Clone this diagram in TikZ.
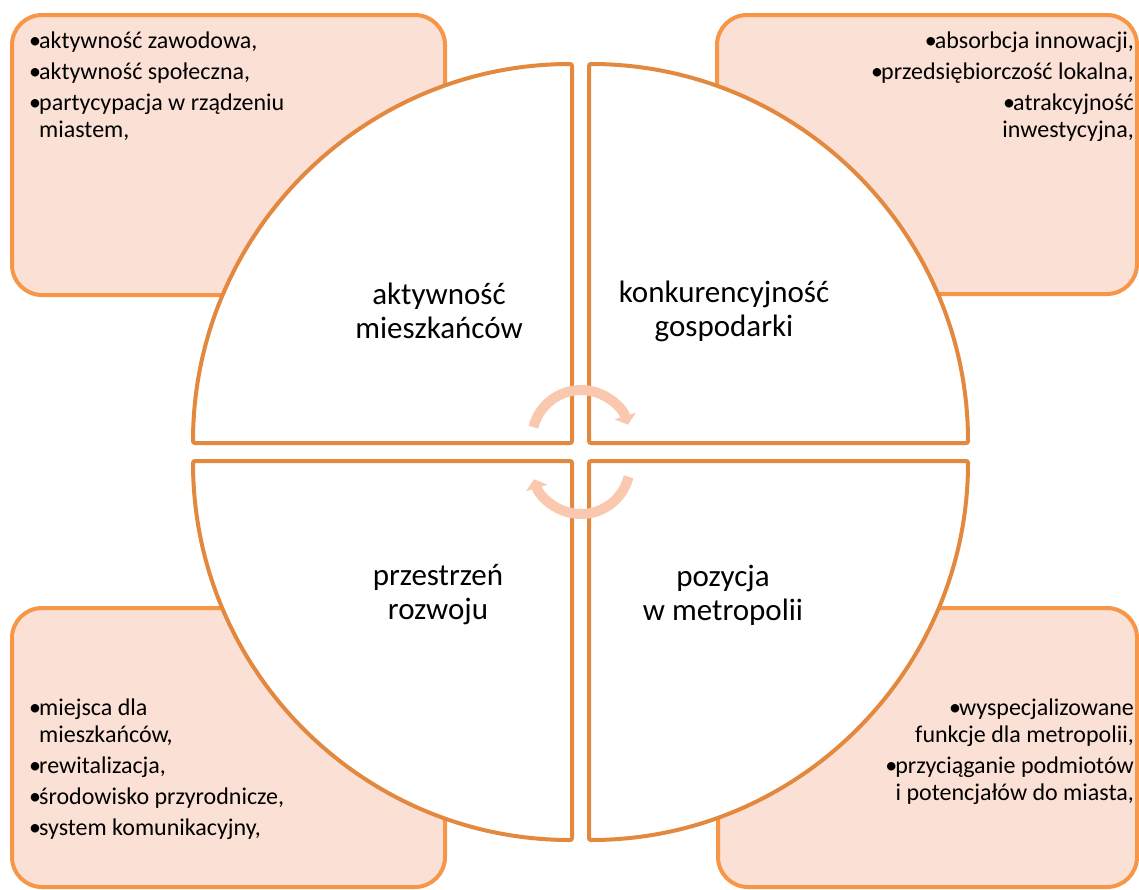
\documentclass[tikz,border=0pt]{standalone}
\usepackage{fontspec}
\setmainfont{Carlito}
\usetikzlibrary{arrows.meta}
\definecolor{boxfill}{HTML}{FBE0D5}
\definecolor{boxline}{HTML}{F79646}
\definecolor{secline}{HTML}{E3893F}
\definecolor{cyc}{HTML}{FAC8AE}
\tikzset{
  box/.style={draw=boxline, fill=boxfill, line width=4pt, rounded corners=30pt},
  sector/.style={draw=secline, fill=white, line width=4pt, rounded corners=2pt},
  cycarrow/.style={draw=cyc, line width=10pt, -{Triangle[width=22pt,length=9pt]}},
  mainlabel/.style={font=\fontsize{31}{34}\selectfont, align=center, inner sep=0pt},
  bl/.style={font=\fontsize{24}{27}\selectfont, inner sep=0pt},
}
\newcommand{\bul}{\makebox[10pt][l]{\textbullet}}
\begin{document}
\begin{tikzpicture}[x=1pt,y=-1pt]
\useasboundingbox (0,0) rectangle (1139,889);
% corner boxes
\draw[box] (12,15) rectangle (445,295);
\draw[box] (717,15) rectangle (1137,294);
\draw[box] (12,608) rectangle (445,887);
\draw[box] (718,608) rectangle (1137,887);
% sectors
\draw[sector] (572,443) -- (193,443) arc[start angle=180, end angle=270, radius=379] -- cycle;
\draw[sector] (589,443) -- (589,64) arc[start angle=270, end angle=360, radius=379] -- cycle;
\draw[sector] (589,461) -- (968,461) arc[start angle=0, end angle=90, radius=379] -- cycle;
\draw[sector] (572,461) -- (572,840) arc[start angle=90, end angle=180, radius=379] -- cycle;
% cycle arrows
\coordinate (c1) at (581,439);
\coordinate (c2) at (581,465);
\draw[cycarrow] (c1) ++(194:49) arc[start angle=194, end angle=343, radius=49];
\draw[cycarrow] (c2) ++(14:49) arc[start angle=14, end angle=163, radius=49];
% main labels
\node[mainlabel] (l1) at (439,311) {aktywność\\mieszkańców};
\node[mainlabel] (l2) at (724,311) {konkurencyjność\\gospodarki};
\node[mainlabel] (l3) at (438,595) {przestrzeń\\rozwoju};
\node[mainlabel] (l4) at (723,595) {pozycja\\w metropolii};
% bullet texts
\node[bl, anchor=north west, align=left] (t1) at (29,32) {%
\bul aktywność zawodowa,\\[4pt]
\bul aktywność społeczna,\\[4pt]
\bul partycypacja w rządzeniu\\
\hspace*{10pt}miastem,};
\node[bl, anchor=north east, align=right] (t2) at (1134,32) {%
\bul absorbcja innowacji,\\[4pt]
\bul przedsiębiorczość lokalna,\\[4pt]
\bul atrakcyjność\\
inwestycyjna,};
\node[bl, anchor=north west, align=left] (t3) at (29,699) {%
\bul miejsca dla\\
\hspace*{10pt}mieszkańców,\\[4pt]
\bul rewitalizacja,\\[4pt]
\bul środowisko przyrodnicze,\\[4pt]
\bul system komunikacyjny,};
\node[bl, anchor=north east, align=right] (t4) at (1134,699) {%
\bul wyspecjalizowane\\
funkcje dla metropolii,\\[4pt]
\bul przyciąganie podmiotów\\
i potencjałów do miasta,};
\end{tikzpicture}
\end{document}
